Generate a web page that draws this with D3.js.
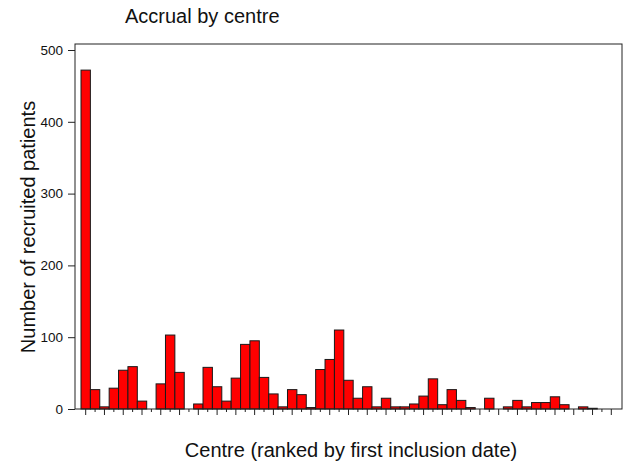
<!DOCTYPE html>
<html>
<head>
<meta charset="utf-8">
<script src="https://cdn.jsdelivr.net/npm/d3@7"></script>
<style>
  body { margin: 0; background: #fff; }
  text { font-family: "Liberation Sans", Arial, sans-serif; fill: #111; }
  .tick text { font-size: 13.5px; }
</style>
</head>
<body>
<div id="chart"></div>
<script>
var width = 624, height = 463;

var margin = {top: 44, right: 2, bottom: 54, left: 75},
    w = width - margin.left - margin.right,
    h = height - margin.top - margin.bottom;

// patients recruited per centre, centres ranked by first inclusion date
var centres = d3.range(1, 58);
var patients = [472, 27, 3, 29, 54, 59, 11, 0, 35, 103,
                51, 0, 7, 58, 31, 11, 43, 90, 95, 44,
                21, 3, 27, 20, 2, 55, 69, 110, 40, 15,
                31, 3, 15, 3, 3, 7, 18, 42, 6, 27,
                12, 2, 0, 15, 0, 3, 12, 3, 9, 9,
                17, 6, 0, 3, 1, 0, 0];
var yTicks = [0, 100, 200, 300, 400, 500];

var svg = d3.select("#chart").append("svg")
    .attr("width", width)
    .attr("height", height);

var g = svg.append("g").attr("transform", "translate(" + margin.left + "," + margin.top + ")");

var x = d3.scaleBand().domain(centres).range([6, w - 6]).padding(0),
    y = d3.scaleLinear().domain([0, 500]).range([h, 6]);

// bars
g.selectAll(".bar")
    .data(patients)
    .enter().append("rect")
    .attr("class", "bar")
    .attr("x", function(d, i) { return x(centres[i]); })
    .attr("width", x.bandwidth())
    .attr("y", function(d) { return y(d); })
    .attr("height", function(d) { return h - y(d); })
    .attr("fill", "#ff0000")
    .attr("stroke", "#1a1a1a")
    .attr("stroke-width", 1);

// box
g.append("rect")
    .attr("width", w)
    .attr("height", h)
    .attr("fill", "none")
    .attr("stroke", "#222")
    .attr("stroke-width", 1);

// y axis
var yAxis = d3.axisLeft(y).tickValues(yTicks).tickSize(7).tickPadding(5);
g.append("g").call(yAxis)
    .call(function(s) { s.select(".domain").remove(); });

// x ticks, alternating long / short, no labels
var xLong = d3.axisBottom(x)
        .tickValues(centres.filter(function(d, i) { return i % 2 == 0; }))
        .tickSize(6).tickFormat(""),
    xShort = d3.axisBottom(x)
        .tickValues(centres.filter(function(d, i) { return i % 2 == 1; }))
        .tickSize(3).tickFormat("");
g.append("g").attr("transform", "translate(0," + h + ")").call(xLong)
    .call(function(s) { s.select(".domain").remove(); });
g.append("g").attr("transform", "translate(0," + h + ")").call(xShort)
    .call(function(s) { s.select(".domain").remove(); });

g.selectAll(".tick line").attr("stroke", "#222");

// titles
svg.append("text")
    .attr("x", 125).attr("y", 23)
    .style("font-size", "20px")
    .text("Accrual by centre");

svg.append("text")
    .attr("x", 351).attr("y", 457)
    .attr("text-anchor", "middle")
    .style("font-size", "20px")
    .text("Centre (ranked by first inclusion date)");

svg.append("text")
    .attr("transform", "translate(35," + 227 + ") rotate(-90)")
    .attr("text-anchor", "middle")
    .style("font-size", "20px")
    .text("Number of recruited patients");
</script>
</body>
</html>
